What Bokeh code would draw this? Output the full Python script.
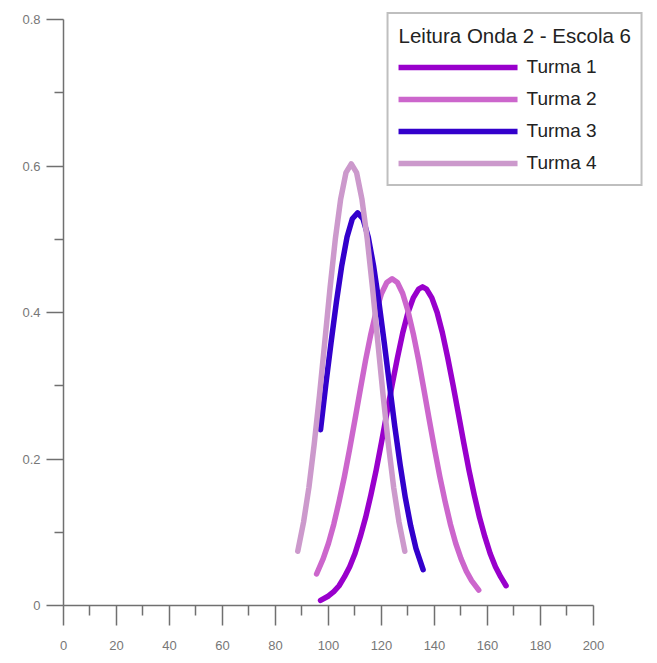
from bokeh.plotting import figure
from bokeh.models import Range1d, FixedTicker, Legend, LegendItem
from bokeh.embed import file_html
from bokeh.resources import INLINE

# ---- data ----
legend_title = "Leitura Onda 2 - Escola 6"
series_names = ["Turma 1", "Turma 2", "Turma 3", "Turma 4"]

t1_x = [97, 100, 102, 104, 106, 108, 110, 112, 114, 116, 118, 120, 122, 124, 126, 128, 130, 132, 134,
        135.5, 137, 139, 141, 143, 145, 147, 149, 151, 153, 155, 157, 159, 161, 163, 165, 167]
t1_y = [0.007, 0.013, 0.019, 0.027, 0.039, 0.053, 0.071, 0.094, 0.120, 0.151, 0.185, 0.223, 0.262, 0.301,
        0.338, 0.372, 0.400, 0.420, 0.432, 0.435, 0.432, 0.420, 0.400, 0.372, 0.338, 0.301, 0.262, 0.223,
        0.185, 0.151, 0.120, 0.094, 0.071, 0.053, 0.039, 0.027]

t2_x = [95.5, 98, 100, 102, 104, 106, 108, 110, 112, 114, 116, 118, 120, 122, 124, 126, 128, 130, 132,
        134, 136, 138, 140, 142, 144, 146, 148, 150, 152, 154, 156.7]
t2_y = [0.043, 0.064, 0.085, 0.111, 0.142, 0.176, 0.214, 0.254, 0.295, 0.335, 0.371, 0.402, 0.426, 0.441,
        0.446, 0.441, 0.426, 0.402, 0.371, 0.335, 0.295, 0.254, 0.214, 0.176, 0.142, 0.111, 0.085, 0.064,
        0.047, 0.034, 0.021]

t3_x = [97, 99, 101, 103, 105, 107, 109, 111, 113, 115, 117, 119, 121, 123, 125, 127, 129, 131, 133, 135.7]
t3_y = [0.240, 0.302, 0.360, 0.415, 0.464, 0.503, 0.528, 0.536, 0.528, 0.503, 0.464, 0.415, 0.360, 0.302,
        0.245, 0.193, 0.147, 0.109, 0.078, 0.049]

t4_x = [88.4, 90.6, 92.6, 94.6, 96.6, 98.6, 100.6, 102.6, 104.6, 106.6, 108.6, 110.6, 112.6, 114.6, 116.6,
        118.6, 120.6, 122.6, 124.6, 126.6, 128.8]
t4_y = [0.074, 0.114, 0.161, 0.220, 0.287, 0.360, 0.434, 0.501, 0.555, 0.591, 0.603, 0.591, 0.555, 0.501,
        0.434, 0.360, 0.287, 0.220, 0.161, 0.114, 0.074]

x_ticks = [0, 20, 40, 60, 80, 100, 120, 140, 160, 180, 200]
x_minor = [10, 30, 50, 70, 90, 110, 130, 150, 170, 190]
y_ticks = [0, 0.2, 0.4, 0.6, 0.8]
y_tick_labels = ["0", "0.2", "0.4", "0.6", "0.8"]
y_minor = [0.1, 0.3, 0.5, 0.7]

colors = ["#9900cc", "#cc66cc", "#3300cc", "#cc99cc"]

FONT = "Liberation Sans"

p = figure(width=657, height=663, output_backend="svg", toolbar_location=None,
           x_range=Range1d(0, 218.87), y_range=Range1d(0, 0.8096),
           min_border_left=63, min_border_right=14, min_border_top=12,
           min_border_bottom=58)
p.grid.visible = False
p.outline_line_color = None
p.background_fill_color = "white"
p.border_fill_color = "white"

renderers = []
for xs, ys, c in zip([t1_x, t2_x, t3_x, t4_x], [t1_y, t2_y, t3_y, t4_y], colors):
    r = p.line(xs, ys, line_color=c, line_width=5.5, line_cap="round", line_join="round")
    renderers.append(r)

# axes
xa = p.xaxis[0]
xa.ticker = FixedTicker(ticks=x_ticks, minor_ticks=x_minor)
xa.bounds = (0, 200)
xa.major_tick_out = 20
xa.major_tick_in = 0
xa.minor_tick_out = 10
xa.minor_tick_in = 0
xa.major_label_standoff = 15

ya = p.yaxis[0]
ya.ticker = FixedTicker(ticks=y_ticks, minor_ticks=y_minor)
ya.bounds = (0, 0.8)
ya.major_tick_out = 17
ya.major_tick_in = 0
ya.minor_tick_out = 9
ya.minor_tick_in = 0
ya.major_label_standoff = 6
ya.major_label_overrides = dict(zip(y_ticks, y_tick_labels))

for ax in (xa, ya):
    ax.axis_line_color = "#707070"
    ax.axis_line_width = 1.5
    ax.major_tick_line_color = "#707070"
    ax.major_tick_line_width = 1.5
    ax.minor_tick_line_color = "#707070"
    ax.minor_tick_line_width = 1.5
    ax.major_label_text_font = FONT
    ax.major_label_text_font_size = "13px"
    ax.major_label_text_color = "#777777"

legend = Legend(items=[LegendItem(label=n, renderers=[r]) for n, r in zip(series_names, renderers)],
                location="top_right", margin=0, padding=10,
                title=legend_title, title_text_font=FONT, title_text_font_size="20.5px",
                title_text_font_style="normal", title_text_color="#222222",
                title_standoff=8,
                label_text_font=FONT, label_text_font_size="19px", label_text_color="#222222",
                glyph_width=119, glyph_height=20, label_height=20, label_standoff=9,
                spacing=10,
                border_line_color="#808080", border_line_width=2,
                background_fill_color="white", background_fill_alpha=1.0)
p.add_layout(legend)

open("out.html", "w").write(file_html(p, INLINE))
